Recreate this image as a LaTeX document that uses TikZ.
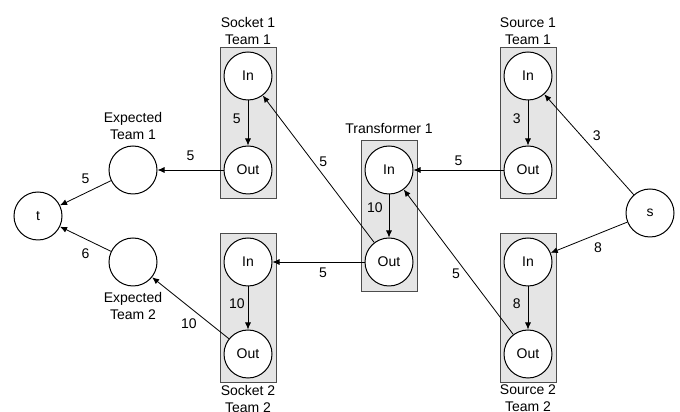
\documentclass[tikz,border=0pt]{standalone}
\usepackage{fontspec}
\setmainfont{Liberation Sans}
\usetikzlibrary{arrows.meta,positioning,fit,backgrounds}

\tikzset{
  vertex/.style={circle,draw,fill=white,line width=1pt,minimum size=48pt,inner sep=0pt},
  groupbox/.style={draw=black!70,fill=black!10,line width=1pt,inner xsep=3.5pt,inner ysep=4pt},
  grouplabel/.style={align=center,inner sep=1pt},
  flow/.style={-{Latex[length=7pt,width=6pt]},line width=0.8pt},
  weight/.style={inner sep=2pt}
}

\begin{document}
\begin{tikzpicture}[x=1pt,y=1pt,font=\fontsize{14}{17}\selectfont]
  \useasboundingbox (0,0) rectangle (680,412);

  % sink side
  \node[vertex] (t) at (38,196) {t};
  \node[vertex] (exp1) at (133,242) {};
  \node[vertex] (exp2) at (133,150) {};
  \node[grouplabel, above=5pt of exp1] {Expected\\Team 1};
  \node[grouplabel, below=5pt of exp2] {Expected\\Team 2};

  % sockets
  \node[vertex] (sk1in)  at (248,336) {In};
  \node[vertex] (sk1out) at (248,242) {Out};
  \node[vertex] (sk2in)  at (248,150) {In};
  \node[vertex] (sk2out) at (248,58)  {Out};

  % transformer
  \node[vertex] (trin)  at (389,242) {In};
  \node[vertex] (trout) at (389,150) {Out};

  % sources
  \node[vertex] (so1in)  at (528,336) {In};
  \node[vertex] (so1out) at (528,242) {Out};
  \node[vertex] (so2in)  at (528,150) {In};
  \node[vertex] (so2out) at (528,58)  {Out};
  \node[vertex] (s) at (650,199) {s};

  \begin{scope}[on background layer]
    \node[groupbox, fit=(sk1in)(sk1out)] (sk1box) {};
    \node[groupbox, fit=(sk2in)(sk2out)] (sk2box) {};
    \node[groupbox, fit=(trin)(trout), inner ysep=5pt] (trbox) {};
    \node[groupbox, fit=(so1in)(so1out)] (so1box) {};
    \node[groupbox, fit=(so2in)(so2out)] (so2box) {};
  \end{scope}

  \node[grouplabel, above=1pt of sk1box] {Socket 1\\Team 1};
  \node[grouplabel, below=1pt of sk2box] {Socket 2\\Team 2};
  \node[grouplabel, above=5pt of trbox] {Transformer 1};
  \node[grouplabel, above=1pt of so1box] {Source 1\\Team 1};
  \node[grouplabel, below=1pt of so2box] {Source 2\\Team 2};

  % flows
  \draw[flow] (s) -- node[weight, above right=2pt] {3} (so1in);
  \draw[flow] (s) -- node[weight, below right=4pt] {8} (so2in);
  \draw[flow] (so1in) -- node[weight, pos=0.4, left=5pt] {3} (so1out);
  \draw[flow] (so2in) -- node[weight, pos=0.4, left=5pt] {8} (so2out);
  \draw[flow] (so1out) -- node[weight, above=2pt] {5} (trin);
  \draw[flow] (so2out) -- node[weight, pos=0.42, left=5pt] {5} (trin);
  \draw[flow] (trin) -- node[weight, pos=0.3, left=4pt] {10} (trout);
  \draw[flow] (trout) -- node[weight, pos=0.55, right=4pt] {5} (sk1in);
  \draw[flow] (trout) -- node[weight, pos=0.45, below=3pt] {5} (sk2in);
  \draw[flow] (sk1in) -- node[weight, pos=0.4, left=5pt] {5} (sk1out);
  \draw[flow] (sk2in) -- node[weight, pos=0.4, left=1pt] {10} (sk2out);
  \draw[flow] (sk1out) -- node[weight, above=7pt] {5} (exp1);
  \draw[flow] (sk2out) -- node[weight, pos=0.52, below=10pt] {10} (exp2);
  \draw[flow] (exp1) -- node[weight, above=7pt] {5} (t);
  \draw[flow] (exp2) -- node[weight, below=7pt] {6} (t);
\end{tikzpicture}
\end{document}
